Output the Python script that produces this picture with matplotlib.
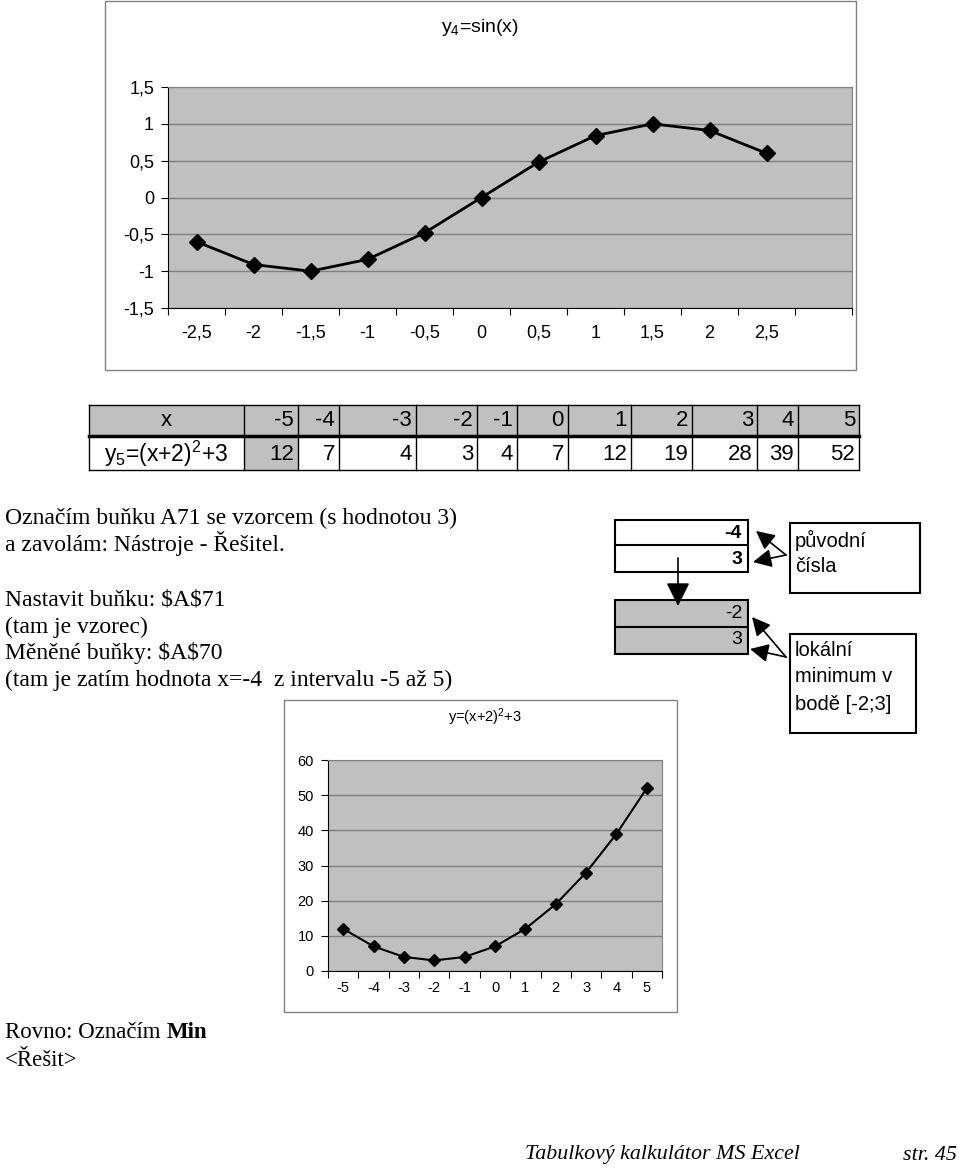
import matplotlib
matplotlib.use("Agg")
import matplotlib.pyplot as plt
from matplotlib.patches import Rectangle

plt.rcParams["font.family"] = ["Liberation Sans", "DejaVu Sans"]
plt.rcParams["mathtext.fontset"] = "custom"
plt.rcParams["mathtext.rm"] = "Liberation Sans"
plt.rcParams["mathtext.it"] = "Liberation Sans:italic"

# --- data ---
sin_x_labels = ["-2,5", "-2", "-1,5", "-1", "-0,5", "0", "0,5", "1", "1,5", "2", "2,5"]
sin_y = [-0.60, -0.91, -1.00, -0.84, -0.48, 0.00, 0.48, 0.84, 1.00, 0.91, 0.60]
sin_ticks = [-1.5, -1, -0.5, 0, 0.5, 1, 1.5]
sin_tick_labels = ["-1,5", "-1", "-0,5", "0", "0,5", "1", "1,5"]

quad_x = ["-5", "-4", "-3", "-2", "-1", "0", "1", "2", "3", "4", "5"]
quad_y = [12, 7, 4, 3, 4, 7, 12, 19, 28, 39, 52]
quad_ticks = [0, 10, 20, 30, 40, 50, 60]

W, H = 960, 1169
GRAY = "#c0c0c0"
DARK = "#808080"
SERIF = "Liberation Serif"


def rect(x0, y0, x1, y1):
    return [x0 / W, 1 - y1 / H, (x1 - x0) / W, (y1 - y0) / H]


fig = plt.figure(figsize=(W / 100, H / 100), dpi=100)
fig.patch.set_facecolor("white")

# overlay in pixel coordinates for page elements
ov = fig.add_axes([0, 0, 1, 1], zorder=0)
ov.set_xlim(0, W)
ov.set_ylim(H, 0)
ov.axis("off")

# chart frames
ov.add_patch(Rectangle((105, 1), 751, 369, fc="white", ec=DARK, lw=1))
ov.add_patch(Rectangle((284, 700), 393, 312, fc="white", ec=DARK, lw=1))


def style_chart(ax, n_slots, tick_fs, xpad, ypad):
    ax.set_facecolor(GRAY)
    for s in ["top", "right"]:
        ax.spines[s].set_color(DARK)
    for s in ["left", "bottom"]:
        ax.spines[s].set_color("black")
    ax.set_xlim(-0.5, n_slots - 0.5)
    ax.set_xticks([i - 0.5 for i in range(n_slots + 1)], minor=True)
    ax.tick_params(axis="x", which="major", length=0, pad=xpad, labelsize=tick_fs)
    ax.tick_params(axis="x", which="minor", length=5, direction="out", width=0.8)
    ax.tick_params(axis="y", length=5, direction="out", width=0.8, pad=ypad, labelsize=tick_fs)
    ax.grid(axis="y", color=DARK, lw=1)
    ax.set_axisbelow(True)


# --- chart 1: y4 = sin(x) ---
ax1 = fig.add_axes(rect(168, 87, 852, 308), zorder=2)
style_chart(ax1, 12, 13, 12, 5)
ax1.plot(range(len(sin_y)), sin_y, color="black", lw=2, marker="D", ms=8, clip_on=False)
ax1.set_xticks(range(len(sin_x_labels)))
ax1.set_xticklabels(sin_x_labels)
ax1.set_ylim(-1.5, 1.5)
ax1.set_yticks(sin_ticks)
ax1.set_yticklabels(sin_tick_labels)
ov.text(480, 27, r"y$_4$=sin(x)", fontsize=14, ha="center", va="center")

# --- table ---
col_edges = [89, 244, 298, 339, 416, 477, 517, 568, 631, 692, 757, 798, 859]
row_top, row_mid, row_bot = 405, 436, 470
ov.add_patch(Rectangle((col_edges[0], row_top), col_edges[-1] - col_edges[0], row_mid - row_top, fc=GRAY, ec="none"))
ov.add_patch(Rectangle((col_edges[1], row_mid), col_edges[2] - col_edges[1], row_bot - row_mid, fc=GRAY, ec="none"))
for y in [row_top, row_bot]:
    ov.plot([col_edges[0], col_edges[-1]], [y, y], color="black", lw=1)
ov.plot([col_edges[0], col_edges[-1]], [row_mid, row_mid], color="black", lw=2.5)
for x in col_edges:
    ov.plot([x, x], [row_top, row_bot], color="black", lw=1)
ov.text((col_edges[0] + col_edges[1]) / 2, 420, "x", fontsize=16, ha="center", va="center")
ov.text((col_edges[0] + col_edges[1]) / 2, 454, r"y$_5$=(x+2)$^2$+3", fontsize=16.5, ha="center", va="center")
for i in range(len(quad_x)):
    ov.text(col_edges[i + 2] - 4, 420, quad_x[i], fontsize=16, ha="right", va="center")
    ov.text(col_edges[i + 2] - 4, 454, str(quad_y[i]), fontsize=16, ha="right", va="center")

# --- paragraph text ---
para = [
    (518, "Označím buňku A71 se vzorcem (s hodnotou 3)"),
    (544, "a zavolám: Nástroje - Řešitel."),
    (600, "Nastavit buňku: $A$71"),
    (627, "(tam je vzorec)"),
    (653, "Měněné buňky: $A$70"),
    (680, "(tam je zatím hodnota x=-4  z intervalu -5 až 5)"),
]
for y, t in para:
    ov.text(5, y, t, fontsize=17, family=SERIF, ha="left", va="center", parse_math=False)

# --- right-hand boxes ---
ov.add_patch(Rectangle((615, 520), 133, 52, fc="white", ec="black", lw=1.5))
ov.plot([615, 748], [545, 545], color="black", lw=1.5)
ov.text(742, 533, "-4", fontsize=14, fontweight="bold", ha="right", va="center")
ov.text(742, 560, "3", fontsize=14, fontweight="bold", ha="right", va="center")

ov.add_patch(Rectangle((615, 600), 133, 54, fc=GRAY, ec="black", lw=1.5))
ov.plot([615, 748], [627, 627], color="black", lw=1.5)
ov.text(742, 613, "-2", fontsize=14, ha="right", va="center")
ov.text(742, 640, "3", fontsize=14, ha="right", va="center")

down = dict(arrowstyle="-|>", color="black", lw=1.2, mutation_scale=36, shrinkA=0, shrinkB=0)
side = dict(arrowstyle="-|>", color="black", lw=1.2, mutation_scale=28, shrinkA=0, shrinkB=0)
ov.annotate("", xy=(678, 606), xytext=(678, 558), arrowprops=down)

ov.add_patch(Rectangle((790, 523), 130, 70, fc="white", ec="black", lw=1.5))
ov.text(795, 540, "původní", fontsize=14.5, ha="left", va="center")
ov.text(795, 566, "čísla", fontsize=14.5, ha="left", va="center")
ov.annotate("", xy=(756, 531), xytext=(786, 555), arrowprops=side)
ov.annotate("", xy=(753, 562), xytext=(786, 555), arrowprops=side)

ov.add_patch(Rectangle((790, 634), 126, 99, fc="white", ec="black", lw=1.5))
ov.text(795, 650, "lokální", fontsize=14.5, ha="left", va="center")
ov.text(795, 677, "minimum v", fontsize=14.5, ha="left", va="center")
ov.text(795, 704, "bodě [-2;3]", fontsize=14.5, ha="left", va="center")
ov.annotate("", xy=(752, 617), xytext=(786, 657), arrowprops=side)
ov.annotate("", xy=(750, 649), xytext=(786, 657), arrowprops=side)

# --- chart 2: y = (x+2)^2 + 3 ---
ax2 = fig.add_axes(rect(328, 760, 662, 971), zorder=2)
style_chart(ax2, 11, 10.5, 7, 5)
ax2.plot(range(len(quad_y)), quad_y, color="black", lw=1.5, marker="D", ms=6.5, clip_on=False)
ax2.set_xticks(range(len(quad_x)))
ax2.set_xticklabels(quad_x)
ax2.set_ylim(0, 60)
ax2.set_yticks(quad_ticks)
ov.text(485, 717, r"y=(x+2)$^2$+3", fontsize=10.5, ha="center", va="center")

# --- bottom text ---
t = ov.text(5, 1032, "Rovno: Označím ", fontsize=16.5, family=SERIF, ha="left", va="center")
fig.canvas.draw()
bb = t.get_window_extent()
x_end = ov.transData.inverted().transform((bb.x1, bb.y0))[0]
ov.text(x_end, 1032, "Min", fontsize=16.5, family=SERIF, fontweight="bold", ha="left", va="center")
ov.text(5, 1060, "<Řešit>", fontsize=16.5, family=SERIF, ha="left", va="center")
ov.text(525, 1155, "Tabulkový kalkulátor MS Excel", fontsize=15.8, family=SERIF,
        style="italic", ha="left", va="center")
ov.text(957, 1155, "str. 45", fontsize=15.8, family=SERIF, style="italic", ha="right", va="center")

fig.savefig("out.png", dpi=100)
